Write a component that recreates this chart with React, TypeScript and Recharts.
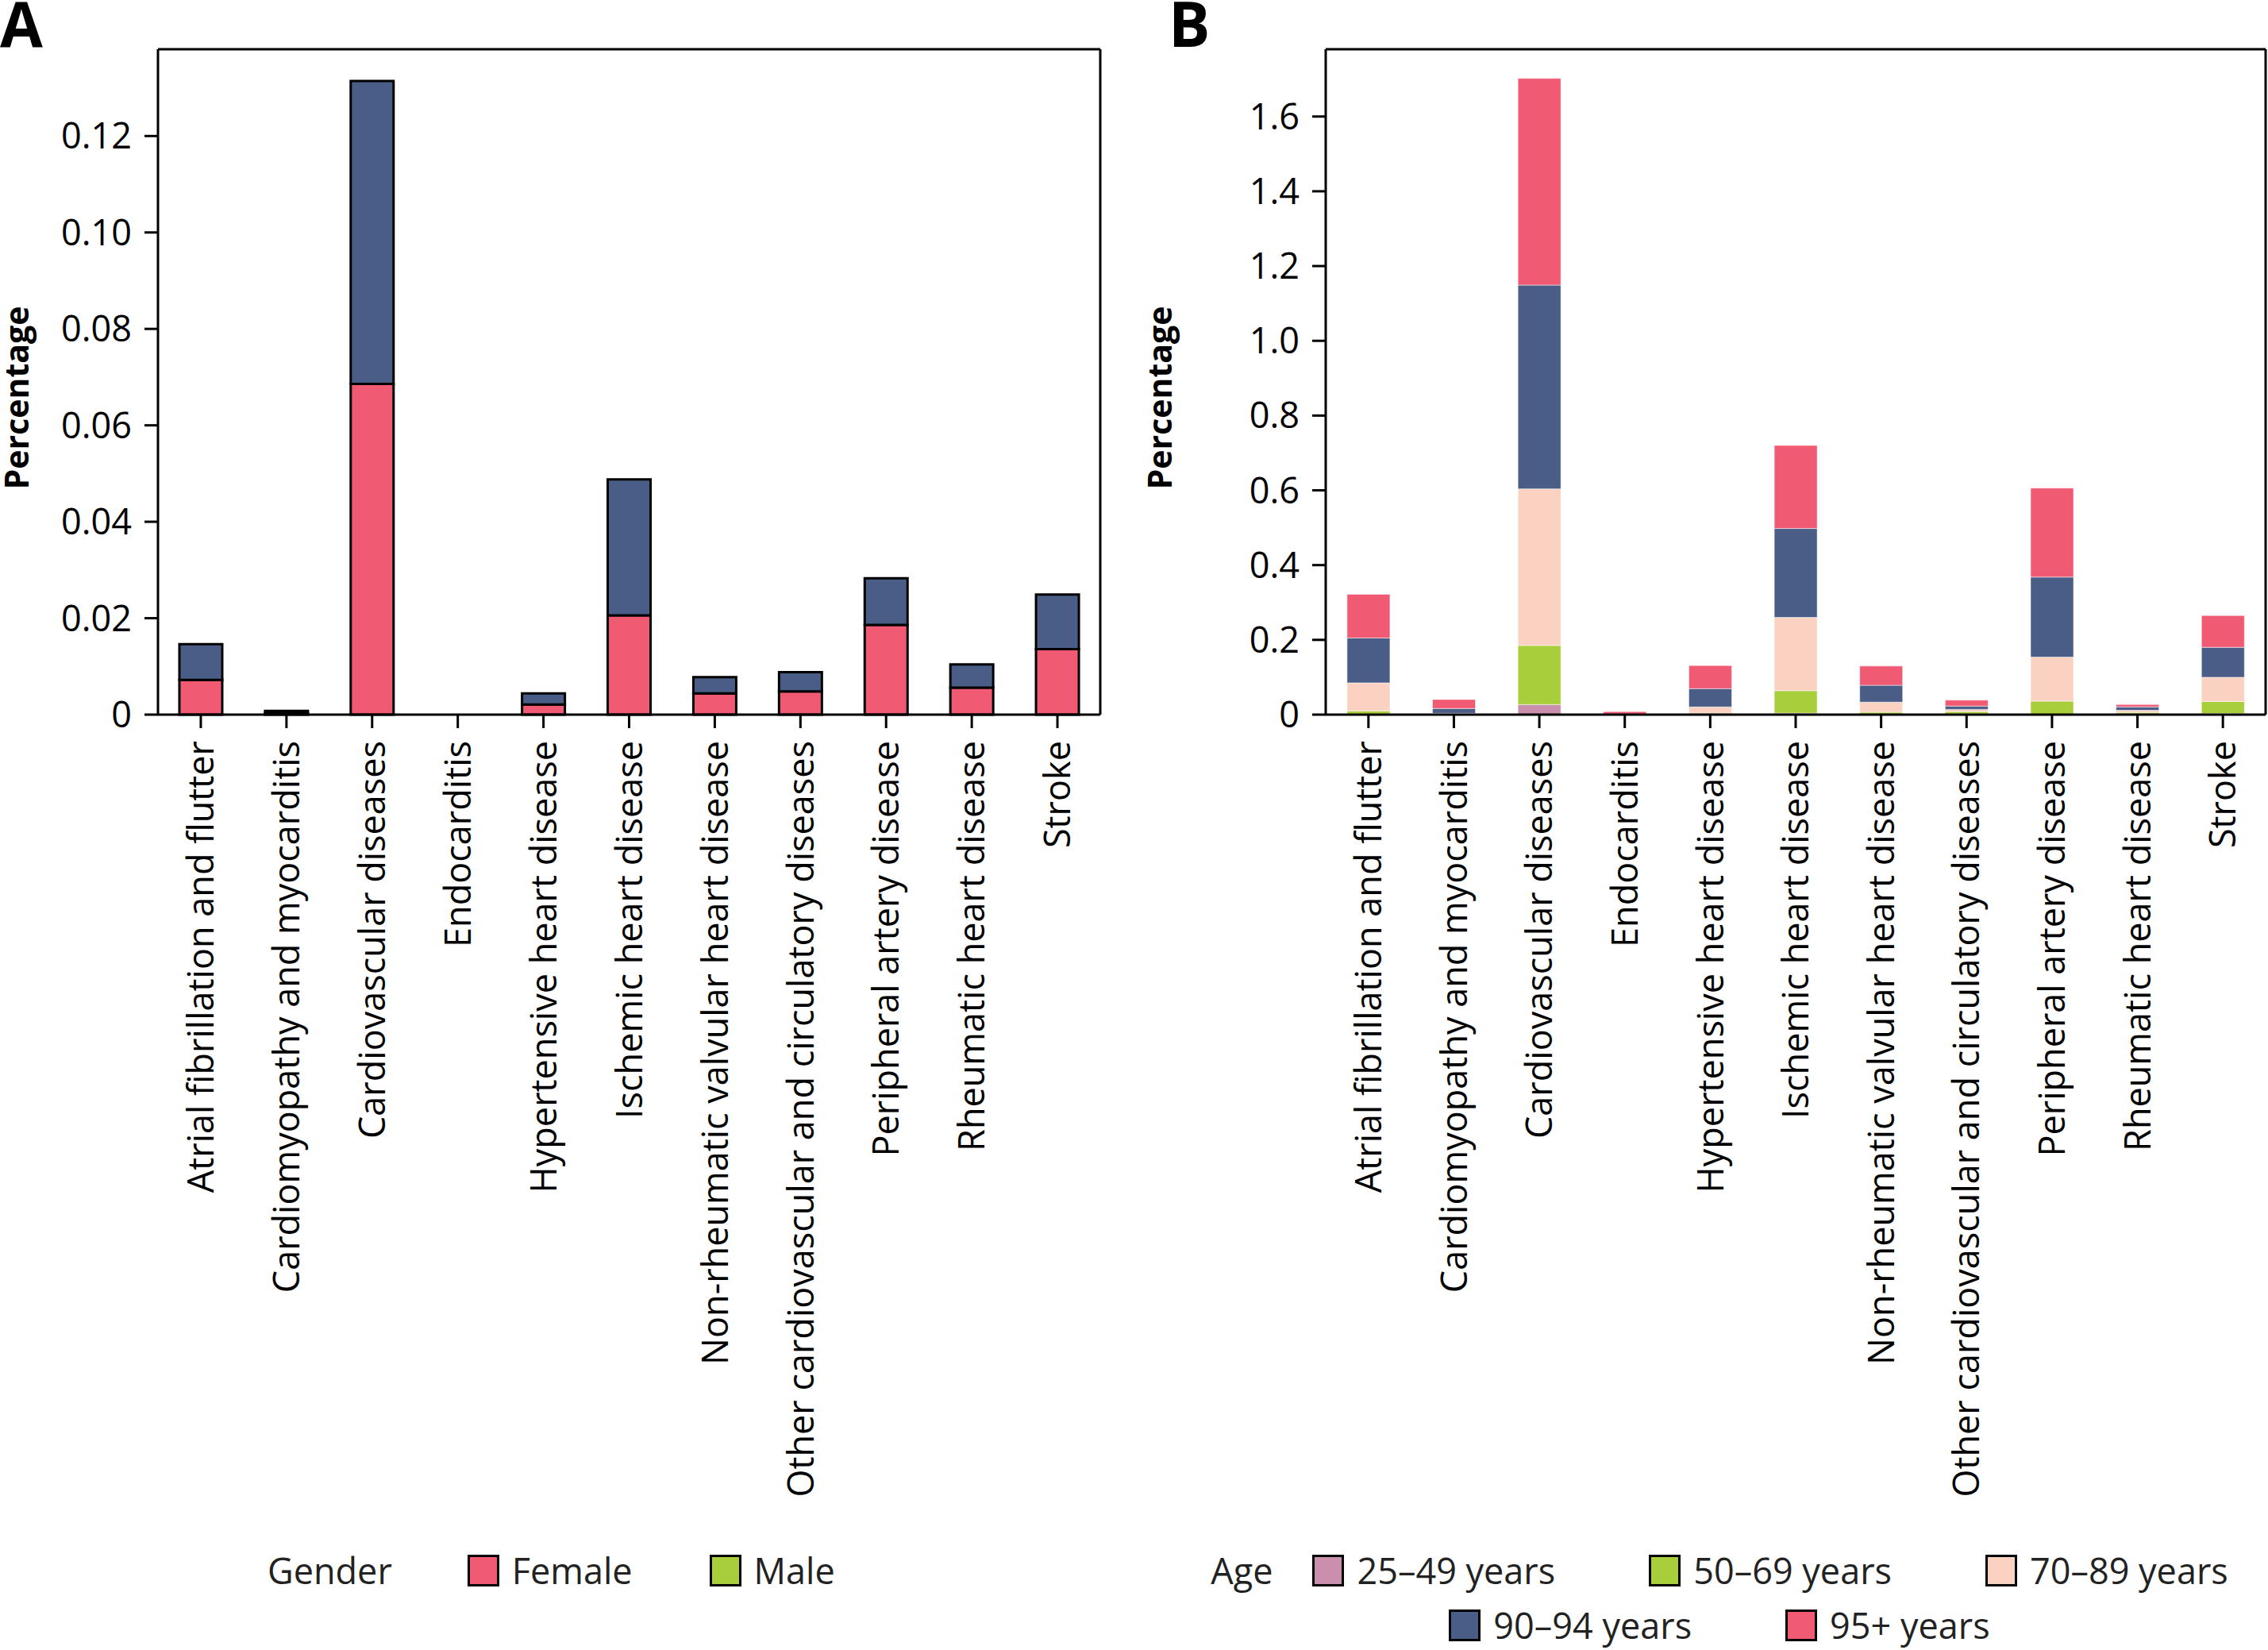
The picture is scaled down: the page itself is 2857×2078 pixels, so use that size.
import React from 'react';
import { BarChart, Bar, XAxis, YAxis, Legend } from 'recharts';

const FONT = "'Open Sans', 'Noto Sans', sans-serif";

const categories = [
  'Atrial fibrillation and flutter',
  'Cardiomyopathy and myocarditis',
  'Cardiovascular diseases',
  'Endocarditis',
  'Hypertensive heart disease',
  'Ischemic heart disease',
  'Non-rheumatic valvular heart disease',
  'Other cardiovascular and circulatory diseases',
  'Peripheral artery disease',
  'Rheumatic heart disease',
  'Stroke',
];

// panel A, by gender
const femaleValues = [0.0072, 0.0003, 0.0686, 0, 0.0021, 0.0206, 0.0044, 0.0048, 0.0186, 0.0056, 0.0136];
const maleValues = [0.0074, 0.0005, 0.0628, 0, 0.0023, 0.0282, 0.0034, 0.004, 0.0097, 0.0048, 0.0113];
const ticksA = [0, 0.02, 0.04, 0.06, 0.08, 0.1, 0.12];

// panel B, by age group
const age25to49 = [0.002, 0.0005, 0.027, 0, 0.001, 0.004, 0.001, 0.002, 0.001, 0.002, 0.003];
const age50to69 = [0.008, 0.001, 0.158, 0, 0.003, 0.06, 0.0054, 0.006, 0.035, 0.004, 0.032];
const age70to89 = [0.075, 0.002, 0.419, 0.0005, 0.0166, 0.196, 0.027, 0.006, 0.118, 0.0056, 0.065];
const age90to94 = [0.12, 0.013, 0.545, 0.001, 0.049, 0.238, 0.045, 0.009, 0.214, 0.009, 0.08];
const age95plus = [0.117, 0.024, 0.553, 0.0065, 0.0617, 0.222, 0.0515, 0.0156, 0.238, 0.0064, 0.085];
const ticksB = [0, 0.2, 0.4, 0.6, 0.8, 1.0, 1.2, 1.4, 1.6];

const RED = '#F05A73';
const NAVY = '#4A5D87';
const GREEN = '#A8CE3B';
const PEACH = '#FBD2C2';
const PINK = '#CA8FAC';

const genderLegend = [
  { label: 'Female', color: RED },
  { label: 'Male', color: GREEN },
];
const ageLegend = [
  { label: '25–49 years', color: PINK },
  { label: '50–69 years', color: GREEN },
  { label: '70–89 years', color: PEACH },
  { label: '90–94 years', color: NAVY },
  { label: '95+ years', color: RED },
];

const dataA = categories.map((name, i) => ({ name, female: femaleValues[i], male: maleValues[i] }));
const dataB = categories.map((name, i) => ({
  name,
  a1: age25to49[i],
  a2: age50to69[i],
  a3: age70to89[i],
  a4: age90to94[i],
  a5: age95plus[i],
}));

const RotatedTick = (props: any) => {
  const { x, y, payload } = props;
  return (
    <g transform={`translate(${x},${y})`}>
      <text transform="rotate(-90)" textAnchor="end" dy="0.36em" fontSize={45} fontFamily={FONT} fill="#000">
        {payload.value}
      </text>
    </g>
  );
};

const AxisTitle = (props: any) => {
  const vb = props.viewBox || { x: 0, y: 0, height: 0 };
  const cx = 36;
  const cy = vb.y + vb.height / 2 + 20;
  return (
    <text
      x={cx}
      y={cy}
      transform={`rotate(-90, ${cx}, ${cy})`}
      textAnchor="middle"
      fontSize={41}
      fontWeight={700}
      fontFamily={FONT}
      fill="#000"
    >
      Percentage
    </text>
  );
};

const Swatch = ({ color }: { color: string }) => (
  <div style={{ width: 40, height: 40, boxSizing: 'border-box', border: '3px solid #000', background: color }} />
);

const LegendItem = ({ label, color, gap }: { label: string; color: string; gap: number }) => (
  <div style={{ display: 'flex', alignItems: 'center', marginRight: gap }}>
    <Swatch color={color} />
    <span style={{ marginLeft: 16, whiteSpace: 'nowrap' }}>{label}</span>
  </div>
);

const textStyle: React.CSSProperties = { fontFamily: FONT, fontSize: 45, color: '#222', lineHeight: '45px' };

const GenderLegend = () => (
  <div style={{ ...textStyle, display: 'flex', alignItems: 'center', height: 45 }}>
    <span style={{ marginRight: 95 }}>Gender</span>
    {genderLegend.map((it) => (
      <LegendItem key={it.label} label={it.label} color={it.color} gap={97} />
    ))}
  </div>
);

const AgeLegend = () => (
  <div style={{ ...textStyle, width: 1290 }}>
    <div style={{ display: 'flex', alignItems: 'center', justifyContent: 'center', height: 45 }}>
      <span style={{ marginRight: 50 }}>Age</span>
      {ageLegend.slice(0, 3).map((it, i) => (
        <LegendItem key={it.label} label={it.label} color={it.color} gap={i < 2 ? 118 : 0} />
      ))}
    </div>
    <div style={{ display: 'flex', alignItems: 'center', justifyContent: 'center', height: 45, marginTop: 24 }}>
      {ageLegend.slice(3).map((it, i) => (
        <LegendItem key={it.label} label={it.label} color={it.color} gap={i < 1 ? 118 : 0} />
      ))}
    </div>
  </div>
);

const tickStyle = { fill: '#000', fontSize: 45, fontFamily: FONT };
const axisLine = { stroke: '#000', strokeWidth: 3 };
const tickLine = { stroke: '#000', strokeWidth: 3 };

const letterStyle: React.CSSProperties = {
  position: 'absolute',
  top: 0,
  fontFamily: FONT,
  fontWeight: 700,
  fontSize: 78,
  lineHeight: '58px',
  color: '#000',
};

export default function App() {
  return (
    <div style={{ position: 'absolute', left: 0, top: 0, width: 2857, height: 2078, background: '#fff', overflow: 'hidden' }}>
      <div style={{ position: 'absolute', left: 0, top: 0 }}>
        <BarChart
          width={1440}
          height={2078}
          data={dataA}
          barCategoryGap="25%"
          margin={{ top: 61, right: 53, bottom: 178, left: 0 }}
        >
          <XAxis
            dataKey="name"
            interval={0}
            height={1000}
            tick={<RotatedTick />}
            tickSize={17}
            tickMargin={16}
            axisLine={axisLine}
            tickLine={tickLine}
          />
          <XAxis xAxisId="top" dataKey="name" orientation="top" height={1} tick={false} tickLine={false} axisLine={axisLine} />
          <YAxis
            width={199}
            domain={[0, 0.138]}
            ticks={ticksA}
            interval={0}
            tick={tickStyle}
            tickSize={17}
            tickMargin={16}
            tickFormatter={(v: number) => (v === 0 ? '0' : v.toFixed(2))}
            axisLine={axisLine}
            tickLine={tickLine}
            label={<AxisTitle />}
          />
          <YAxis yAxisId="right" orientation="right" width={1} tick={false} tickLine={false} axisLine={axisLine} />
          <Bar dataKey="female" stackId="g" fill={RED} stroke="#000" strokeWidth={3} isAnimationActive={false} />
          <Bar dataKey="male" stackId="g" fill={NAVY} stroke="#000" strokeWidth={3} isAnimationActive={false} />
          <Legend
            layout="horizontal"
            verticalAlign="middle"
            align="center"
            wrapperStyle={{ left: 337, top: 1955, width: 1000, height: 45 }}
            content={() => <GenderLegend />}
          />
        </BarChart>
      </div>
      <div style={{ position: 'absolute', left: 1440, top: 0 }}>
        <BarChart
          width={1417}
          height={2078}
          data={dataB}
          barCategoryGap="25%"
          margin={{ top: 61, right: 2, bottom: 178, left: 0 }}
        >
          <XAxis
            dataKey="name"
            interval={0}
            height={1000}
            tick={<RotatedTick />}
            tickSize={17}
            tickMargin={16}
            axisLine={axisLine}
            tickLine={tickLine}
          />
          <XAxis xAxisId="top" dataKey="name" orientation="top" height={1} tick={false} tickLine={false} axisLine={axisLine} />
          <YAxis
            width={230}
            domain={[0, 1.78]}
            ticks={ticksB}
            interval={0}
            tick={tickStyle}
            tickSize={17}
            tickMargin={16}
            tickFormatter={(v: number) => (v === 0 ? '0' : v.toFixed(1))}
            axisLine={axisLine}
            tickLine={tickLine}
            label={<AxisTitle />}
          />
          <YAxis yAxisId="right" orientation="right" width={1} tick={false} tickLine={false} axisLine={axisLine} />
          <Bar dataKey="a1" stackId="a" fill={PINK} stroke="#fff" strokeOpacity={0.5} strokeWidth={1} isAnimationActive={false} />
          <Bar dataKey="a2" stackId="a" fill={GREEN} stroke="#fff" strokeOpacity={0.5} strokeWidth={1} isAnimationActive={false} />
          <Bar dataKey="a3" stackId="a" fill={PEACH} stroke="#fff" strokeOpacity={0.5} strokeWidth={1} isAnimationActive={false} />
          <Bar dataKey="a4" stackId="a" fill={NAVY} stroke="#fff" strokeOpacity={0.5} strokeWidth={1} isAnimationActive={false} />
          <Bar dataKey="a5" stackId="a" fill={RED} stroke="#fff" strokeOpacity={0.5} strokeWidth={1} isAnimationActive={false} />
          <Legend
            layout="horizontal"
            verticalAlign="middle"
            align="center"
            wrapperStyle={{ left: 81, top: 1955, width: 1290, height: 114 }}
            content={() => <AgeLegend />}
          />
        </BarChart>
      </div>
      <div style={{ ...letterStyle, left: 0 }}>A</div>
      <div style={{ ...letterStyle, left: 1472 }}>B</div>
    </div>
  );
}
